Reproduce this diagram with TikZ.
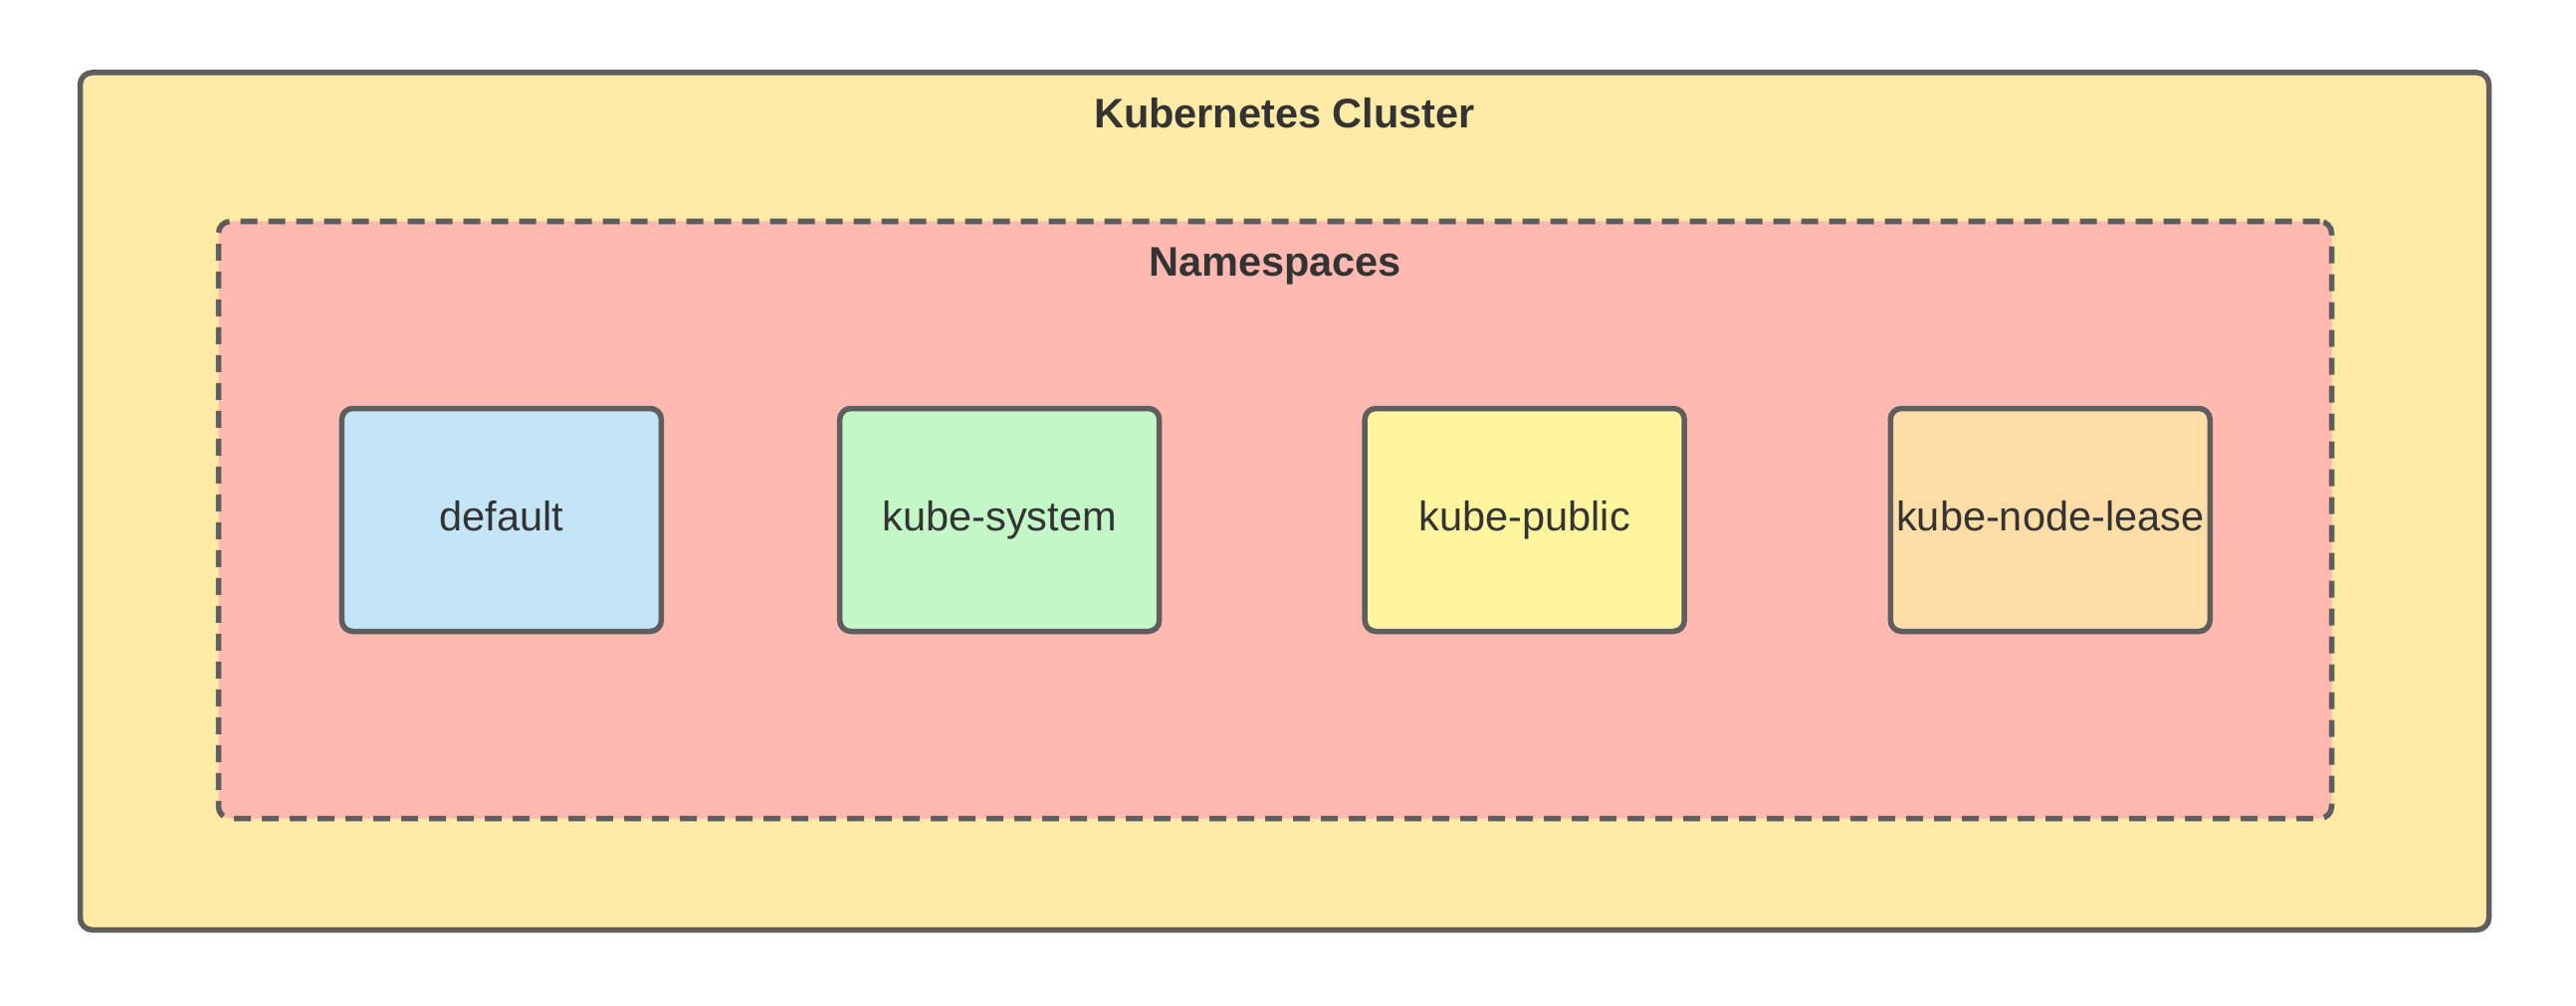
\documentclass[tikz,border=0pt]{standalone}
\usepackage{fontspec}
\setmainfont{Liberation Sans}
\definecolor{strokegray}{HTML}{5E5E5E}
\definecolor{textgray}{HTML}{333333}
\definecolor{clusterfill}{HTML}{FFEAA6}
\definecolor{nsfill}{HTML}{FFB9B0}
\definecolor{bluefill}{HTML}{C3E5F7}
\definecolor{greenfill}{HTML}{C3F7C8}
\definecolor{yellowfill}{HTML}{FFF59E}
\definecolor{orangefill}{HTML}{FFDDA6}
\begin{document}
\begin{tikzpicture}[x=1pt,y=-1pt,
  every node/.style={font=\fontsize{41.5}{49}\selectfont, text=textgray, inner sep=0pt, outer sep=0pt},
  container/.style={draw=strokegray, line width=5.5pt, rounded corners=12pt},
  nsbox/.style={container, dash pattern=on 17pt off 11pt},
  nsitem/.style={draw=strokegray, line width=5.5pt, rounded corners=11pt,
    minimum width=321pt, minimum height=224pt, text height=30pt, text depth=8.4pt},
  heading/.style={font=\fontsize{41.5}{49}\selectfont\bfseries, anchor=base}
]
\useasboundingbox[fill=white] (0,0) rectangle (2588,1011);
\node[container, fill=clusterfill, minimum width=2420pt, minimum height=861.5pt] (cluster) at (1290.5,503.75) {};
\node[nsbox, fill=nsfill, minimum width=2123pt, minimum height=600pt] (ns) at (1281,522.5) {};
\node[heading] (clustertitle) at (1290.5,128.3) {Kubernetes Cluster};
\node[heading] (nstitle) at (1281,277.3) {Namespaces};
\node[nsitem, fill=bluefill] (default) at (503.9,522.5) {default};
\node[nsitem, fill=greenfill] (kubesystem) at (1004.2,522.5) {kube-system};
\node[nsitem, fill=yellowfill] (kubepublic) at (1531.7,522.5) {kube-public};
\node[nsitem, fill=orangefill] (kubenodelease) at (2059.75,522.5) {kube-node-lease};
\end{tikzpicture}
\end{document}
